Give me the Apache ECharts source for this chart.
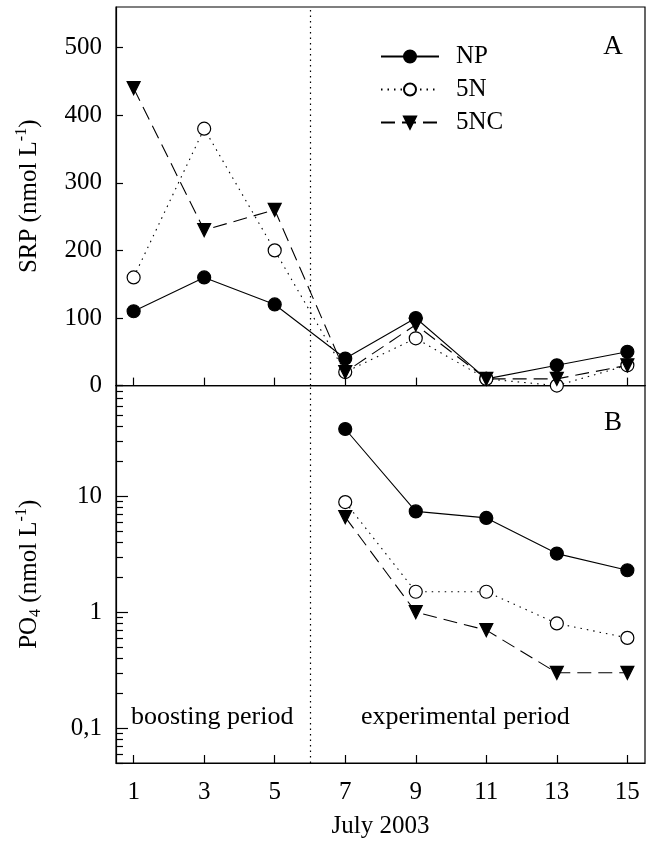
<!DOCTYPE html>
<html lang="en">
<head>
<meta charset="UTF-8">
<title>SRP / PO4 July 2003</title>
<script src="https://cdn.jsdelivr.net/npm/echarts@6/dist/echarts.min.js"></script>
<style>
    html, body { margin: 0; padding: 0; background: #fff; }
    #chart { width: 646px; height: 844px; }
</style>
</head>
<body>
<div id="chart"></div>
<script>
// days of July 2003
var days = [1, 3, 5, 7, 9, 11, 13, 15];
var daysB = [7, 9, 11, 13, 15];
// A: SRP (nmol L-1)
var srpNP = [110, 160, 120, 40, 100, 10, 30, 50];
var srp5N = [160, 380, 200, 20, 70, 10, 0, 30];
var srp5NC = [440, 230, 260, 20, 90, 10, 10, 30];
// B: PO4 (nmol L-1), experimental period only
var po4NP = [38, 7.4, 6.5, 3.2, 2.3];
var po45N = [8.9, 1.5, 1.5, 0.8, 0.6];
var po45NC = [6.6, 1.0, 0.7, 0.3, 0.3];

// ticks
var xTicks = [1, 3, 5, 7, 9, 11, 13, 15];
var srpTicks = [0, 100, 200, 300, 400, 500];
var logMajor = [0.1, 1, 10];
var logMinor = [0.05, 0.06, 0.07, 0.08, 0.09, 0.2, 0.3, 0.4, 0.5, 0.6, 0.7, 0.8, 0.9,
    2, 3, 4, 5, 6, 7, 8, 9, 20, 30, 40, 50, 60, 70, 80, 90];

var FONT = 'Liberation Serif';
var downTri = 'path://M0,0L10,0L5,9Z';

var looks = {
    'NP': { symbol: 'circle', fill: '#000', dash: 'solid', size: 13 },
    '5N': { symbol: 'circle', fill: '#fff', dash: [1.5, 5], size: 13 },
    '5NC': { symbol: downTri, fill: '#000', dash: [14, 7], size: 13 }
};

function line(name, xs, ys, idx, withMark) {
    var lk = looks[name];
    var s = {
        name: name,
        type: 'line',
        xAxisIndex: idx,
        yAxisIndex: idx,
        data: xs.map(function (x, i) { return [x, ys[i]]; }),
        symbol: lk.symbol,
        symbolSize: lk.size,
        showAllSymbol: true,
        itemStyle: { color: lk.fill, borderColor: '#000', borderWidth: 1.2 },
        lineStyle: { color: '#000', width: 1.1, type: lk.dash },
        emphasis: { disabled: true },
        silent: true
    };
    if (withMark) {
        // boosting / experimental split on day 6
        s.markLine = {
            silent: true,
            symbol: 'none',
            label: { show: false },
            lineStyle: { color: '#000', width: 1.2, type: [1.5, 4] },
            data: [{ xAxis: 6 }]
        };
    }
    return s;
}

var richName = {
    m: { fontSize: 25, fontFamily: FONT, color: '#000', lineHeight: 30 },
    sup: { fontSize: 16, fontFamily: FONT, color: '#000', verticalAlign: 'top', lineHeight: 16 },
    sub: { fontSize: 16, fontFamily: FONT, color: '#000', verticalAlign: 'bottom', lineHeight: 16 }
};

var xCommon = {
    type: 'value',
    min: 0.5,
    max: 15.5,
    axisLine: { onZero: false, lineStyle: { color: '#000', width: 1.2 } },
    axisTick: { inside: true, length: 8, customValues: xTicks, lineStyle: { color: '#000', width: 1.2 } },
    splitLine: { show: false }
};

var myChart = echarts.init(document.getElementById('chart'));
var option = {
    animation: false,
    backgroundColor: '#fff',
    grid: [
        { left: 116, right: 1, top: 7, height: 378.6, show: true, borderColor: '#000', borderWidth: 1.2 },
        { left: 116, right: 1, top: 385.6, bottom: 81, show: true, borderColor: '#000', borderWidth: 1.2 }
    ],
    legend: {
        data: ['NP', '5N', '5NC'],
        orient: 'vertical',
        left: 375,
        top: 39,
        itemWidth: 58,
        itemHeight: 15,
        itemGap: 8,
        selectedMode: false,
        textStyle: { fontFamily: FONT, fontSize: 25, color: '#000', padding: [0, 0, 0, 12] }
    },
    xAxis: [
        Object.assign({}, xCommon, { gridIndex: 0, axisLabel: { show: false } }),
        Object.assign({}, xCommon, {
            gridIndex: 1,
            axisLabel: { customValues: xTicks, fontFamily: FONT, fontSize: 25, color: '#000', margin: 17 },
            name: 'July 2003',
            nameLocation: 'middle',
            nameGap: 51,
            nameTextStyle: { fontFamily: FONT, fontSize: 25, color: '#000' }
        })
    ],
    yAxis: [
        {
            gridIndex: 0,
            type: 'value',
            min: 0,
            max: 560,
            axisLine: { show: true, onZero: false, lineStyle: { color: '#000', width: 1.2 } },
            axisTick: { show: true, inside: true, length: 7, customValues: srpTicks, lineStyle: { color: '#000', width: 1.2 } },
            axisLabel: { customValues: srpTicks, fontFamily: FONT, fontSize: 25, color: '#000', margin: 14 },
            splitLine: { show: false },
            name: '{m|SRP (nmol L}{sup|-1}{m|)}',
            nameLocation: 'middle',
            nameGap: 72,
            nameTextStyle: { rich: richName }
        },
        {
            gridIndex: 1,
            type: 'log',
            min: 0.05,
            max: 90,
            axisLine: { show: true, onZero: false, lineStyle: { color: '#000', width: 1.2 } },
            axisTick: { show: true, inside: true, length: 12, customValues: logMajor, lineStyle: { color: '#000', width: 1.2 } },
            axisLabel: {
                customValues: logMajor, fontFamily: FONT, fontSize: 25, color: '#000', margin: 14,
                formatter: function (v) { return String(v).replace('.', ','); }
            },
            splitLine: { show: false },
            name: '{m|PO}{sub|4}{m| (nmol L}{sup|-1}{m|)}',
            nameLocation: 'middle',
            nameGap: 72,
            nameTextStyle: { rich: richName }
        },
        {
            // minor log ticks
            gridIndex: 1,
            type: 'log',
            position: 'left',
            min: 0.05,
            max: 90,
            axisLine: { show: false },
            axisTick: { show: true, inside: true, length: 7, customValues: logMinor, lineStyle: { color: '#000', width: 1.2 } },
            axisLabel: { show: false },
            splitLine: { show: false }
        }
    ],
    series: [
        line('NP', days, srpNP, 0, true),
        line('5N', days, srp5N, 0, false),
        line('5NC', days, srp5NC, 0, false),
        line('NP', daysB, po4NP, 1, true),
        line('5N', daysB, po45N, 1, false),
        line('5NC', daysB, po45NC, 1, false)
    ],
    graphic: [
        { type: 'text', x: 613, y: 47, silent: true,
          style: { text: 'A', fontFamily: FONT, fontSize: 27, fill: '#000', align: 'center', verticalAlign: 'middle' } },
        { type: 'text', x: 613, y: 423, silent: true,
          style: { text: 'B', fontFamily: FONT, fontSize: 27, fill: '#000', align: 'center', verticalAlign: 'middle' } },
        { type: 'text', x: 131, y: 717, silent: true,
          style: { text: 'boosting period', fontFamily: FONT, fontSize: 26, fill: '#000', align: 'left', verticalAlign: 'middle' } },
        { type: 'text', x: 361, y: 717, silent: true,
          style: { text: 'experimental period', fontFamily: FONT, fontSize: 26, fill: '#000', align: 'left', verticalAlign: 'middle' } }
    ]
};
myChart.setOption(option);
</script>
</body>
</html>
